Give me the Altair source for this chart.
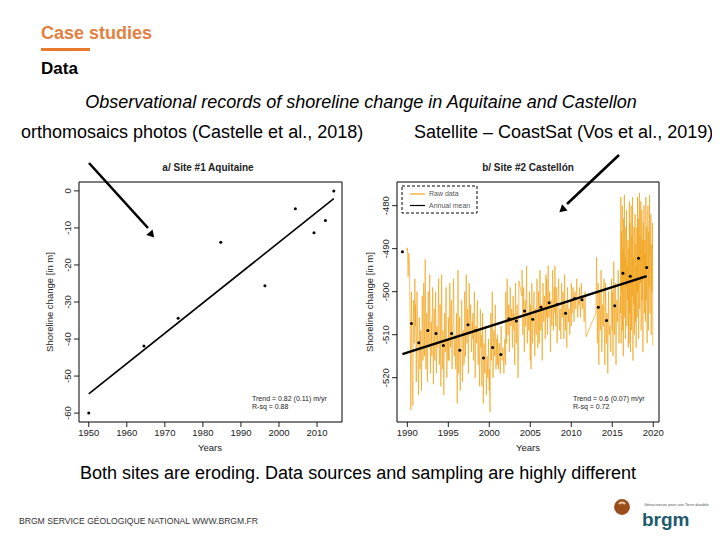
import altair as alt
import pandas as pd

# ---------------- data ----------------
# Site #1 Aquitaine (orthomosaics)
left_years = [1950, 1964.5, 1973.5, 1984.7, 1996.3, 2004.3, 2009.2, 2012.2, 2014.4]
left_vals = [-60.0, -41.9, -34.4, -13.9, -25.6, -4.8, -11.3, -8.0, 0.0]
left_trend_years = [1950, 2014.4]
left_trend_vals = [-54.8, -2.1]
left_xticks = [1950, 1960, 1970, 1980, 1990, 2000, 2010]
left_yticks = [0, -10, -20, -30, -40, -50, -60]

# Site #2 Castellon (CoastSat) annual means
right_years = [1989.4, 1990.5, 1991.4, 1992.5, 1993.5, 1994.4, 1995.4, 1996.4, 1997.4, 1998.3,
               1999.3, 2000.4, 2001.4, 2002.4, 2003.3, 2004.3, 2005.3, 2006.3, 2007.3, 2008.3,
               2009.3, 2010.4, 2011.3, 2013.3, 2014.3, 2015.3, 2016.3, 2017.2, 2018.2, 2019.2]
right_vals = [-490.7, -507.4, -511.9, -509.0, -509.7, -512.5, -509.7, -513.6, -507.7, -509.1,
              -515.4, -513.0, -514.6, -506.3, -506.8, -504.5, -506.4, -503.6, -502.6, -503.0,
              -505.0, -501.6, -501.9, -503.6, -506.7, -503.3, -495.7, -496.4, -492.2, -494.4]
right_trend_years = [1989.4, 2019.2]
right_trend_vals = [-514.5, -496.4]
right_xticks = [1990, 1995, 2000, 2005, 2010, 2015, 2020]
right_yticks = [-480, -490, -500, -510, -520]

# Raw data segments: (start, end, values read along the segment)
raw_segments = [
    (1989.85, 1991.0, [-490.0, -490.3, -489.8, -496.5, -491.0, -493.0, -506.0, -527.5, -500.0,
                       -519.0, -526.5, -502.0, -512.0, -497.0, -508.0]),
    (1991.0, 1992.0, [-503, -521, -500, -514, -524, -506, -518, -509, -523, -501, -516, -512]),
    (1992.0, 1993.0, [-498, -515, -492.5, -518, -505, -521, -500, -513, -496, -519, -507, -515]),
    (1993.0, 1994.0, [-511, -499, -521.5, -504, -516, -500, -519, -508, -513, -497, -517, -510]),
    (1994.0, 1995.0, [-503, -522, -496, -518, -509, -524, -505, -514, -499, -520, -511, -516]),
    (1995.0, 1996.0, [-506, -516, -498, -513, -502, -518, -508, -497, -515, -510, -518, -505]),
    (1996.0, 1997.0, [-510, -526, -495, -519, -506, -523, -512, -502, -521, -509, -517, -514]),
    (1997.0, 1998.0, [-500, -515, -496, -512, -504, -519, -498, -510, -503, -514, -507, -511]),
    (1998.0, 1999.0, [-505, -516, -500, -520, -508, -512, -502, -517, -509, -522, -504, -513]),
    (1999.0, 2000.0, [-510, -522, -505, -526, -512, -519, -508, -524, -515, -520, -511, -523]),
    (2000.0, 2001.0, [-518, -528, -505, -516, -500, -520, -509, -515, -503, -518, -511, -517]),
    (2001.0, 2002.0, [-510, -518, -512, -519, -508, -516, -513, -519, -511, -517]),
    (2002.0, 2003.0, [-500, -512, -497, -510, -503, -514, -499, -508, -504, -513, -501, -509]),
    (2003.0, 2003.6, [-505, -517, -498, -512, -503, -520, -508]),
    (2003.6, 2004.0, [-497.5, -501]),
    (2004.0, 2005.0, [-495, -510, -499, -514, -502, -508, -494, -512, -505, -509, -500, -516]),
    (2005.0, 2006.0, [-503, -518, -498, -512, -507, -500, -515, -504, -510, -497, -513, -508]),
    (2006.0, 2007.0, [-500, -512, -495, -509, -503, -516, -498, -507, -501, -511, -496, -506]),
    (2007.0, 2008.0, [-497, -510, -494, -506, -500, -514, -502, -508, -495, -509, -499, -505]),
    (2008.0, 2009.0, [-494, -508, -499, -512, -502, -497, -509, -504, -511, -498, -506, -501]),
    (2009.0, 2010.0, [-500, -511, -496, -509, -503, -513, -499, -507, -504, -510, -502, -508]),
    (2010.0, 2011.0, [-498, -505, -499, -507, -500, -504, -497, -506, -502, -503]),
    (2011.0, 2011.8, [-499, -506, -498, -504, -501, -507, -500, -510.5]),
    (2013.0, 2014.0, [-505, -492, -512, -498, -517, -500, -509, -495, -514, -503, -508, -497]),
    (2014.0, 2015.0, [-503, -517, -498, -512, -505, -519, -500, -510, -508, -514, -497, -509]),
    (2015.0, 2016.0, [-500, -515, -493, -510, -498, -517, -502, -507, -495, -512, -504, -501]),
    (2016.0, 2017.0, [-505, -478, -512, -486, -500, -480, -509, -490, -515, -483, -497, -477.5,
                      -506, -492, -511, -485, -499, -481, -508, -494, -502, -488, -513, -496]),
    (2017.0, 2018.0, [-490, -512, -479, -505, -484, -514, -495, -480, -509, -487, -501, -478,
                      -516, -492, -503, -485, -510, -498, -482, -507, -489, -513, -494, -500]),
    (2018.0, 2019.0, [-485, -506, -478, -500, -483, -511, -490, -477, -504, -487, -498, -479,
                      -509, -493, -481, -502, -488, -514, -484, -497, -480, -505, -491, -496]),
    (2019.0, 2019.95, [-488, -507, -478, -502, -485, -512, -491, -480, -509, -486, -499, -477.5,
                       -505, -493, -482, -510, -489, -500, -484, -512.5]),
]

raw_t, raw_v = [], []
for start, end, vals in raw_segments:
    n = len(vals)
    for i, v in enumerate(vals):
        raw_t.append(start + (end - start) * i / max(n - 1, 1))
        raw_v.append(v)
df_raw = pd.DataFrame({"year": raw_t, "val": raw_v})

FONT = "Liberation Sans"
AX = "#222222"

# ---------------- scales (pixel ranges inside the 704x524 view) ----------------
LX = alt.Scale(domain=[1947.44, 2016.56], range=[71, 334], zero=False, nice=False)
LY = alt.Scale(domain=[-62.4, 2.4], range=[414, 174], zero=False, nice=False)
RX = alt.Scale(domain=[1988.74, 2020.7], range=[389, 651], zero=False, nice=False)
RY = alt.Scale(domain=[-530.3, -474.5], range=[414, 174], zero=False, nice=False)


def label(text, x, y, size=9, weight="normal", style="normal", align="center",
          color=AX, angle=0, baseline="middle"):
    return alt.Chart(pd.DataFrame({"t": [text]})).mark_text(
        font=FONT, fontSize=size, fontWeight=weight, fontStyle=style, align=align,
        baseline=baseline, color=color, angle=angle
    ).encode(x=alt.value(x), y=alt.value(y), text="t:N")


def box(x1, x2, y1, y2, dash=None, width=1):
    kw = dict(fill="transparent", stroke="black", strokeWidth=width)
    if dash:
        kw["strokeDash"] = dash
    return alt.Chart(pd.DataFrame({"t": [0]})).mark_rect(**kw).encode(
        x=alt.value(x1), x2=alt.value(x2), y=alt.value(y1), y2=alt.value(y2))


def seg(x1, y1, x2, y2, color="black", width=1):
    return alt.Chart(pd.DataFrame({"t": [0]})).mark_rule(color=color, strokeWidth=width).encode(
        x=alt.value(x1), x2=alt.value(x2), y=alt.value(y1), y2=alt.value(y2))


def axes(xs, ys, xticks, yticks, left, bottom):
    dx = pd.DataFrame({"tick": xticks, "lab": [str(t) for t in xticks]})
    dy = pd.DataFrame({"tick": yticks, "lab": [str(t) for t in yticks]})
    xt = alt.Chart(dx).mark_rule(color=AX).encode(
        x=alt.X("tick:Q", scale=xs, axis=None), y=alt.value(bottom), y2=alt.value(bottom + 5))
    xl = alt.Chart(dx).mark_text(font=FONT, fontSize=9.5, color=AX).encode(
        x=alt.X("tick:Q", scale=xs, axis=None), y=alt.value(bottom + 11), text="lab:N")
    yt = alt.Chart(dy).mark_rule(color=AX).encode(
        y=alt.Y("tick:Q", scale=ys, axis=None), x=alt.value(left), x2=alt.value(left - 5))
    yl = alt.Chart(dy).mark_text(font=FONT, fontSize=9.5, color=AX, angle=270).encode(
        y=alt.Y("tick:Q", scale=ys, axis=None), x=alt.value(left - 11), text="lab:N")
    return [xt, xl, yt, yl]


# ---------------- left panel ----------------
df_left = pd.DataFrame({"year": left_years, "val": left_vals})
df_ltrend = pd.DataFrame({"year": left_trend_years, "val": left_trend_vals})
left_panel = alt.layer(
    alt.Chart(df_ltrend).mark_line(color="black", strokeWidth=1.6).encode(
        x=alt.X("year:Q", scale=LX, axis=None), y=alt.Y("val:Q", scale=LY, axis=None)),
    alt.Chart(df_left).mark_circle(color="black", size=9, opacity=1).encode(
        x=alt.X("year:Q", scale=LX, axis=None), y=alt.Y("val:Q", scale=LY, axis=None)),
    *axes(LX, LY, left_xticks, left_yticks, 71, 414),
)

# ---------------- right panel ----------------
df_right = pd.DataFrame({"year": right_years, "val": right_vals})
df_rtrend = pd.DataFrame({"year": right_trend_years, "val": right_trend_vals})
right_panel = alt.layer(
    alt.Chart(df_raw).mark_line(color="#F2A31B", strokeWidth=0.8, opacity=0.85).encode(
        x=alt.X("year:Q", scale=RX, axis=None), y=alt.Y("val:Q", scale=RY, axis=None)),
    alt.Chart(df_rtrend).mark_line(color="black", strokeWidth=2.4).encode(
        x=alt.X("year:Q", scale=RX, axis=None), y=alt.Y("val:Q", scale=RY, axis=None)),
    alt.Chart(df_right).mark_circle(color="black", size=9, opacity=1).encode(
        x=alt.X("year:Q", scale=RX, axis=None), y=alt.Y("val:Q", scale=RY, axis=None)),
    *axes(RX, RY, right_xticks, right_yticks, 389, 414),
)

# ---------------- annotations ----------------
def arrow_head(x, y, angle):
    return alt.Chart(pd.DataFrame({"t": [0]})).mark_point(
        shape="triangle", filled=True, color="black", size=70, angle=angle, opacity=1
    ).encode(x=alt.value(x), y=alt.value(y))

annotations = [
    # header
    label("Case studies", 33, 26, size=18, weight="bold", align="left", color="#E4803F"),
    alt.Chart(pd.DataFrame({"t": [0]})).mark_rect(color="#E8792E").encode(
        x=alt.value(33), x2=alt.value(82), y=alt.value(40), y2=alt.value(43)),
    label("Data", 33, 61, size=17, weight="bold", align="left", color="black"),
    label("Observational records of shoreline change in Aquitaine and Castellon", 353, 95,
          size=18, style="italic", color="black"),
    label("orthomosaics photos (Castelle et al., 2018)", 13, 125, size=18, align="left", color="black"),
    label("Satellite \u2013 CoastSat (Vos et al., 2019)", 406, 125, size=18, align="left", color="black"),
    label("Both sites are eroding. Data sources and sampling are highly different", 350, 466,
          size=18, color="black"),
    label("BRGM SERVICE G\u00c9OLOGIQUE NATIONAL WWW.BRGM.FR", 11, 513, size=8.6, align="left",
          color="#333333"),
    # logo
    alt.Chart(pd.DataFrame({"t": [0]})).mark_circle(color="#9A4E1C", size=250, opacity=1).encode(
        x=alt.value(614), y=alt.value(499)),
    alt.Chart(pd.DataFrame({"t": [0]})).mark_arc(
        color="#E9C9A8", radius=4.5, radius2=2.5, theta=5.28, theta2=7.28
    ).encode(x=alt.value(614), y=alt.value(498)),
    label("brgm", 634, 512, size=19, weight="bold", align="left", color="#1D5A6E"),
    label("G\u00e9osciences pour une Terre durable", 636, 497, size=4, align="left", color="#555555"),
    # frames
    box(71, 334, 174, 414),
    box(389, 651, 174, 414),
    # chart titles / axis titles
    label("a/ Site #1 Aquitaine", 200, 160, size=10, weight="bold"),
    label("b/ Site #2 Castell\u00f3n", 520, 160, size=10, weight="bold"),
    label("Years", 202, 440, size=9.5),
    label("Years", 520, 440, size=9.5),
    label("Shoreline change [in m]", 42, 294, size=9.5, angle=270),
    label("Shoreline change [in m]", 362, 294, size=9.5, angle=270),
    label("Trend = 0.82 (0.11) m/yr", 244, 391, size=7, align="left"),
    label("R-sq = 0.88", 244, 399, size=7, align="left"),
    label("Trend = 0.6 (0.07) m/yr", 565, 391, size=7, align="left"),
    label("R-sq = 0.72", 565, 399, size=7, align="left"),
    # legend
    box(394, 469, 178, 205, dash=[3, 2]),
    seg(402, 186, 417, 186, color="#F2A31B", width=1.2),
    label("Raw data", 421, 186, size=7, align="left", color="#555555"),
    seg(402, 197.5, 417, 197.5, color="black", width=1.2),
    label("Annual mean", 421, 197.5, size=7, align="left", color="#555555"),
    # arrows
    seg(81, 155, 140, 220, width=2.6),
    arrow_head(143, 226, 138.4),
    seg(611, 147, 559, 196, width=2.6),
    arrow_head(555, 201, 228.8),
]

chart = alt.layer(left_panel, right_panel, *annotations).resolve_scale(
    x="independent", y="independent"
).properties(
    width=704, height=524, padding=0,
    autosize=alt.AutoSizeParams(type="none"),
    background="white",
).configure_view(stroke="transparent")

chart.save("out.html", embed_options={"renderer": "svg", "actions": False})
